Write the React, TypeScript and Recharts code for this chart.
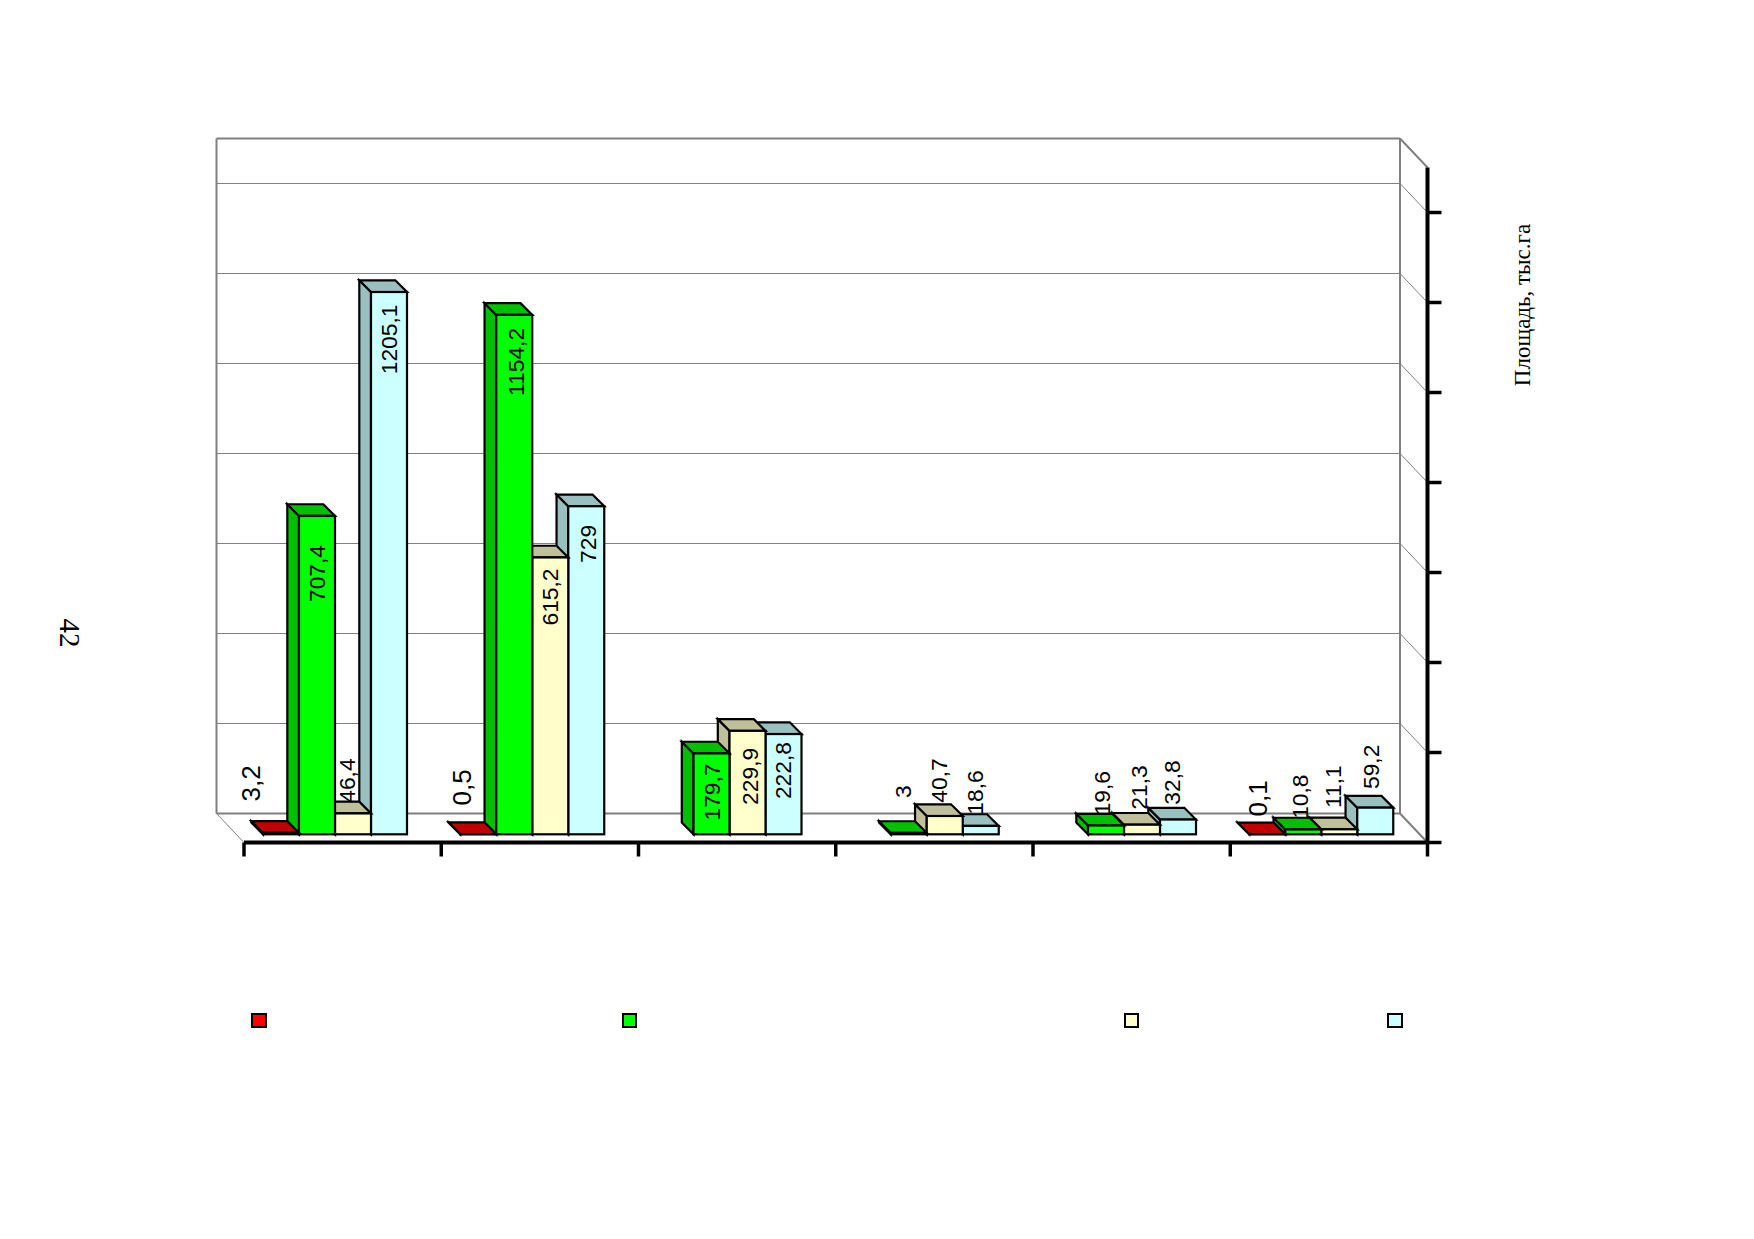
import React from 'react';
import { BarChart, Bar, XAxis, YAxis, CartesianGrid, LabelList, Legend } from 'recharts';

// ---------- data ----------
const categories = ['1', '2', '3', '4', '5', '6'];
const seriesNames = ['Серия 1', 'Серия 2', 'Серия 3', 'Серия 4'];
const redValues = [3.2, 0.5, null, null, null, 0.1];
const greenValues = [707.4, 1154.2, 179.7, 3, 19.6, 10.8];
const yellowValues = [46.4, 615.2, 229.9, 40.7, 21.3, 11.1];
const blueValues = [1205.1, 729, 222.8, 18.6, 32.8, 59.2];
const seriesValues = [redValues, greenValues, yellowValues, blueValues];
const yTicks = [0, 200, 400, 600, 800, 1000, 1200, 1400, 1500];
const yMax = 1500;
const axisTitle = 'Площадь, тыс.га';
const pageNumber = '42';

const rows = categories.map((c, i) => ({
  name: c,
  s0: redValues[i],
  s1: greenValues[i],
  s2: yellowValues[i],
  s3: blueValues[i],
}));

// ---------- layout ----------
const W = 1754;
const H = 1239;
const LEFT = 244;
const RIGHT = 1427.5;
const TOP = 167.5;
const BOTTOM = 842.5;
const WALL_DX = 27.5;
const WALL_DY = 29;
const PLANE_X = 8; // bars stand this far behind the front edge of the floor
const PLANE_Y = 8.2;
const DEPTH = 11.7;
const GRAY = '#808080';

const FRONT = ['#FF0000', '#00FF00', '#FFFFCC', '#CCFFFF'];
const SHADE = ['#C00000', '#00C000', '#BFBF99', '#99BFBF'];
const LEGEND_X = [251, 621.5, 1123.5, 1387];
const LEGEND_Y = 1012.5;

// label nudges per series / category: [dx from bar centre, dy from bar top]
const LABEL_NUDGE: number[][][] = [
  [[-30, -67.6], [-16, -64.8], [0, 0], [0, 0], [0, 0], [-9, -54]],
  [[0, 29], [2, 13], [1, 10], [-6, -47.6], [-3.5, -54.5], [-3.7, -55]],
  [[-6, -55], [0.2, 11], [3, 17], [-6, -57.7], [-3, -59.4], [-6.5, -64]],
  [[0, 12.5], [2, 18.6], [0, 8], [-5.5, -55.6], [-5.5, -59.2], [-4.5, -63]],
];
const LABEL_SIZE = [26, 22.8, 22.8, 22.8];

const Bar3D = (series: number) => (p: any) => {
  const { x, y, width, height, value } = p;
  if (value == null || (Array.isArray(value) && value[1] == null)) return null;
  const fx = x - PLANE_X;
  const fy = y - PLANE_Y;
  const d = DEPTH;
  const line = { stroke: '#000', strokeWidth: 2.2, strokeLinejoin: 'miter' as const };
  return (
    <g>
      <polygon
        points={`${fx},${fy} ${fx - d},${fy - d} ${fx - d},${fy + height - d} ${fx},${fy + height}`}
        fill={SHADE[series]}
        {...line}
      />
      <polygon
        points={`${fx},${fy} ${fx + width},${fy} ${fx + width - d},${fy - d} ${fx - d},${fy - d}`}
        fill={SHADE[series]}
        {...line}
      />
      <rect x={fx} y={fy} width={width} height={height} fill={FRONT[series]} {...line} />
    </g>
  );
};

const ValueLabel = (series: number) => (p: any) => {
  const { x, y, width, value } = p;
  if (value == null) return null;
  const cat = seriesValues[series].indexOf(Number(value));
  const [dx, dy] = LABEL_NUDGE[series][cat];
  const cx = x - PLANE_X + width / 2 + dx;
  const ty = y - PLANE_Y + dy;
  return (
    <text
      x={cx}
      y={ty}
      transform={`rotate(-90 ${cx} ${ty})`}
      textAnchor="end"
      dominantBaseline="central"
      fontFamily="'Liberation Sans', Arial, sans-serif"
      fontSize={LABEL_SIZE[series]}
      fill="#000"
    >
      {String(value).replace('.', ',')}
    </text>
  );
};

const gridLine = (p: any) => {
  const { x1, x2, y1, index } = p;
  const isEdge = y1 <= TOP + 0.5 || y1 >= BOTTOM - 0.5;
  const bx1 = x1 - WALL_DX;
  const bx2 = x2 - WALL_DX;
  const by = y1 - WALL_DY;
  return (
    <g key={`grid-${index}`}>
      <line x1={bx1} x2={bx2} y1={by} y2={by} stroke={GRAY} strokeWidth={isEdge ? 2 : 1} />
      <line x1={bx2} x2={x2} y1={by} y2={y1} stroke={GRAY} strokeWidth={isEdge ? 2 : 1} />
      {y1 >= BOTTOM - 0.5 && <line x1={bx1} x2={x1} y1={by} y2={y1} stroke={GRAY} strokeWidth={1} />}
    </g>
  );
};

const YTick = (p: any) => {
  if (p.payload.value === yMax) return <g />;
  const y = p.y;
  return <line x1={RIGHT} x2={RIGHT + 14} y1={y} y2={y} stroke="#000" strokeWidth={3.5} />;
};

const XTick = (p: any) => {
  const band = (RIGHT - LEFT) / categories.length;
  const xs = [p.x - band / 2];
  if (p.index === categories.length - 1) xs.push(p.x + band / 2);
  return (
    <g>
      {xs.map((x, i) => (
        <line key={i} x1={x} x2={x} y1={BOTTOM} y2={BOTTOM + 14} stroke="#000" strokeWidth={3.5} />
      ))}
    </g>
  );
};

const LegendSwatches = (p: any) => (
  <div style={{ position: 'relative', width: 0, height: 0 }}>
    {(p.payload || []).map((e: any, i: number) => (
      <div
        key={i}
        style={{
          position: 'absolute',
          left: LEGEND_X[i],
          top: LEGEND_Y,
          width: 11.5,
          height: 11.5,
          background: FRONT[i],
          border: '2px solid #000',
        }}
      />
    ))}
  </div>
);

export default function App() {
  return (
    <div style={{ position: 'absolute', left: 0, top: 0, width: W, height: H, background: '#fff' }}>
      <BarChart
        width={W}
        height={H}
        data={rows}
        margin={{ top: TOP, left: LEFT, right: 0, bottom: 0 }}
        barCategoryGap={27}
        barGap={0}
      >
        <CartesianGrid vertical={false} horizontal={gridLine as any} />
        <line x1={LEFT - WALL_DX} x2={LEFT - WALL_DX} y1={TOP - WALL_DY} y2={BOTTOM - WALL_DY} stroke={GRAY} strokeWidth={2} />
        <line x1={RIGHT - WALL_DX} x2={RIGHT - WALL_DX} y1={TOP - WALL_DY} y2={BOTTOM - WALL_DY} stroke={GRAY} strokeWidth={2} />
        <XAxis
          dataKey="name"
          height={H - BOTTOM}
          interval={0}
          axisLine={{ stroke: '#000', strokeWidth: 4 }}
          tickLine={false}
          tick={XTick as any}
        />
        <YAxis
          orientation="right"
          width={W - RIGHT}
          domain={[0, yMax]}
          ticks={yTicks}
          interval={0}
          axisLine={{ stroke: '#000', strokeWidth: 4 }}
          tickLine={false}
          tick={YTick as any}
        />
        {seriesNames.map((n, i) => (
          <Bar
            key={n}
            dataKey={`s${i}`}
            name={n}
            fill={FRONT[i]}
            isAnimationActive={false}
            shape={Bar3D(i) as any}
            zIndex={400 - i * 10}
          >
            <LabelList dataKey={`s${i}`} content={ValueLabel(i) as any} />
          </Bar>
        ))}
        <Legend
          content={LegendSwatches as any}
          itemSorter={null as any}
          wrapperStyle={{ left: 0, top: 0, width: 0, height: 0 }}
        />
        <text
          x={1522}
          y={305}
          transform="rotate(-90 1522 305)"
          textAnchor="middle"
          dominantBaseline="central"
          fontFamily="'Liberation Serif', 'Times New Roman', serif"
          fontSize={23}
          fill="#000"
        >
          {axisTitle}
        </text>
        <text
          x={70}
          y={633}
          transform="rotate(90 70 633)"
          textAnchor="middle"
          dominantBaseline="central"
          fontFamily="'Liberation Serif', 'Times New Roman', serif"
          fontSize={29}
          fill="#000"
        >
          {pageNumber}
        </text>
      </BarChart>
    </div>
  );
}
